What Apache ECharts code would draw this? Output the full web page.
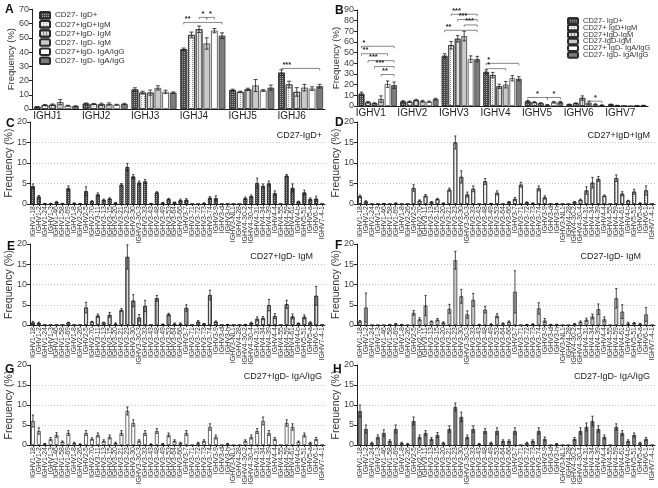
<!DOCTYPE html>
<html><head><meta charset="utf-8">
<script src="https://cdn.jsdelivr.net/npm/echarts@6/dist/echarts.min.js"></script>
<style>html,body{margin:0;padding:0;background:#fff}#c{width:658px;height:488px}</style>
</head><body><div id="c"></div><script>
// ---------------- DATA ----------------
const jCats = ['IGHJ1','IGHJ2','IGHJ3','IGHJ4','IGHJ5','IGHJ6'];
const vFamCats = ['IGHV1','IGHV2','IGHV3','IGHV4','IGHV5','IGHV6','IGHV7'];
const aNames = ['CD27- IgD+','CD27+IgD+IgM','CD27+IgD- IgM','CD27- IgD- IgM','CD27+IgD- IgA/IgG','CD27- IgD- IgA/IgG'];
const bNames = ['CD27- IgD+','CD27+ IgD+IgM','CD27+IgD-IgM','CD27-IgD-IgM','CD27+ IgD- IgA/IgG','CD27- IgD- IgA/IgG '];

// Panel A (IGHJ usage), mean and error per population
const aS1 = [1.5, 3.8, 13.7, 42.0, 13.3, 25.5];  const aS1e = [0.2, 0.4, 1.2, 0.8, 0.6, 2.0];
const aS2 = [2.8, 3.5, 11.5, 52.0, 12.0, 17.2];  const aS2e = [0.4, 0.4, 1.0, 2.0, 0.5, 2.3];
const aS3 = [3.0, 3.3, 11.5, 56.0, 13.8, 12.0];  const aS3e = [0.5, 0.8, 1.8, 2.3, 0.8, 3.0];
const aS4 = [4.8, 3.5, 14.8, 46.0, 16.5, 15.0];  const aS4e = [1.8, 0.8, 1.5, 4.0, 4.2, 2.3];
const aS5 = [2.3, 3.0, 12.0, 55.0, 13.0, 14.3];  const aS5e = [0.3, 0.3, 1.2, 1.5, 0.6, 1.3];
const aS6 = [2.0, 3.5, 11.5, 51.5, 15.0, 16.0];  const aS6e = [0.3, 0.5, 0.5, 2.0, 1.8, 1.3];
// significance brackets: [category, fromSeries, toSeries, yValue, labelMode(0=left,1=center)]
const aBrackets = [[3,0,5,60.8,0],[3,2,3,64.3,1],[3,3,4,64.3,1],[5,0,5,28.5,0]];
const aBracketText = ['**','*','*','***'];

// Panel B (IGHV family usage)
const bS1 = [11.5, 4.2, 47.0, 32.0, 4.3, 1.5, 1.5];  const bS1e = [1.5, 0.8, 2.0, 2.0, 0.8, 0.3, 0.3];
const bS2 = [3.5, 4.0, 57.0, 29.0, 3.5, 2.5, 0.5];   const bS2e = [0.8, 0.6, 3.5, 2.5, 0.5, 0.5, 0.2];
const bS3 = [2.5, 5.5, 63.0, 18.5, 2.5, 7.5, 0.0];   const bS3e = [0.5, 0.8, 3.0, 2.0, 0.6, 2.0, 0.0];
const bS4 = [6.5, 4.5, 65.5, 20.0, 1.0, 3.0, 0.0];   const bS4e = [3.0, 0.8, 4.5, 3.0, 0.3, 1.5, 0.0];
const bS5 = [20.5, 4.0, 44.0, 26.0, 3.5, 1.5, 0.3];  const bS5e = [3.0, 0.6, 3.0, 2.5, 0.8, 0.5, 0.1];
const bS6 = [19.5, 6.5, 44.0, 25.5, 3.5, 0.8, 0.5];  const bS6e = [3.0, 0.8, 2.5, 2.0, 0.8, 0.3, 0.2];
const bBrackets = [[0,0,5,56,0],[0,0,4,49,0],[0,1,5,42.5,0],[0,2,5,37,0],[0,3,5,29.5,0],
  [2,1,5,86,0],[2,2,5,81,0],[2,3,5,76,0],[2,0,5,71,0],
  [3,0,5,40,0],[3,0,3,35,0],
  [4,0,3,8,1],[4,3,5,8,1],[5,3,5,4.5,1]];
const bBracketText = ['*','**','***','***','**','***','***','***','**','*','*','*','*','*'];

// IGHV gene labels for panels C-H
const geneCats = ['IGHV1-18','IGHV1-2','IGHV1-24','IGHV1-3','IGHV1-46','IGHV1-58','IGHV1-69','IGHV1-8',
  'IGHV2-26','IGHV2-5','IGHV2-70','IGHV3-11','IGHV3-13','IGHV3-15','IGHV3-20','IGHV3-21','IGHV3-23',
  'IGHV3-30','IGHV3-30-3','IGHV3-33','IGHV3-43','IGHV3-48','IGHV3-49','IGHV3-53','IGHV3-64','IGHV3-66',
  'IGHV3-7','IGHV3-71','IGHV3-72','IGHV3-73','IGHV3-74','IGHV3-9','IGHV3-d','IGHV3-h','IGHV3-NL1',
  'IGHV4-28','IGHV4-30-2','IGHV4-30-4','IGHV4-31','IGHV4-34','IGHV4-39','IGHV4-4','IGHV4-55','IGHV4-59',
  'IGHV4-61','IGHV4-b','IGHV5-51','IGHV5-a','IGHV6-1','IGHV7-4-1'];
const panelTitles = ['CD27-IgD+','CD27+IgD+IgM','CD27+IgD- IgM','CD27-IgD- IgM','CD27+IgD- IgA/IgG','CD27-IgD- IgA/IgG'];

const cMean = [4.3,1.8,0.1,0.1,0.5,0.1,3.8,0.2,0.1,3.1, 0.7,2.3,1.0,1.3,0.3,4.7,9.0,6.7,5.2,5.5, 0.1,2.8,0.3,1.2,0.4,0.9,1.0,0,0,0.2, 1.5,1.4,0,0,0,0,1.4,1.9,5.1,4.4, 5.0,2.6,0,6.9,3.9,0.6,2.8,1.2,1.3,0];
const cErr  = [0.6,0.3,0.05,0.05,0.15,0.05,0.6,0.1,0.05,1.1, 0.1,0.4,0.2,0.2,0.1,0.3,0.9,0.5,0.4,0.5, 0.05,0.2,0.1,0.2,0.1,0.3,0.3,0,0,0.1, 0.3,0.6,0,0,0,0,0.3,0.3,1.2,0.5, 0.6,0.6,0,0.3,1.0,0.1,0.6,0.3,0.6,0];
const dMean = [1.9,0.6,0,0,0.1,0,0.2,0,0,3.9, 0.8,2.0,0.5,1.2,0.2,3.5,15.0,6.6,2.3,3.7, 0,5.5,0.1,2.7,0,0.5,1.2,4.7,0.4,0.2, 3.8,1.6,0,0.1,0,0,0.5,1.0,3.3,5.2, 6.1,2.0,0,6.3,2.5,0.8,3.0,0.2,3.3,0];
const dErr  = [0.3,0.2,0,0,0.05,0,0.1,0,0,0.8, 0.2,0.3,0.1,0.2,0.1,0.4,1.6,1.5,0.6,0.7, 0,0.7,0.05,0.5,0,0.1,0.4,0.6,0.1,0.1, 0.6,0.4,0,0.05,0,0,0.1,0.2,0.9,1.3, 0.6,0.2,0,0.8,0.5,0.1,0.6,0.1,1.1,0];
const eMean = [0.6,0.5,0,0,0,0,0.6,0,0,4.3, 0.8,2.3,0.6,2.5,0.3,3.7,16.8,6.0,1.8,4.7, 0,6.6,0.2,2.6,0.3,0.3,4.2,0,0.8,0.3, 7.4,0.8,0,0.1,0,0,0.1,0.5,1.5,1.7, 4.9,2.2,0,5.1,2.1,0.4,2.0,0.6,7.2,0];
const eErr  = [0.3,0.2,0,0,0,0,0.1,0,0,1.3, 0.1,0.4,0.1,0.6,0.2,0.4,3.0,1.5,0.8,1.4, 0,0.7,0.05,0.3,0.2,0.2,0.8,0,0.3,0.1, 1.2,0.2,0,0.05,0,0,0.05,0.2,0.5,0.4, 1.4,0.6,0,1.0,0.6,0.1,0.5,0.2,2.3,0];
const fMean = [0.9,4.3,0,0,0,0.1,0.3,0.1,0,3.0, 1.4,4.8,0.9,1.3,0.6,4.0,16.0,7.1,2.6,6.2, 0.1,3.8,0.2,2.3,0.4,0.8,8.2,0,0.1,0.2, 4.1,1.1,0.1,0.1,0,0,0.3,0.8,1.3,2.1, 3.9,1.4,0,6.6,3.3,0.4,0.5,0.3,2.6,0];
const fErr  = [0.2,3.6,0,0,0,0.05,0.1,0.05,0,0.6, 0.4,2.5,0.1,0.3,0.2,1.1,2.2,1.7,0.9,1.6, 0.05,0.8,0.1,0.5,0.1,0.2,5.2,0,0.05,0.1, 1.4,0.5,0.05,0.05,0,0,0.1,0.2,0.4,0.6, 1.3,0.6,0,2.4,1.7,0.3,0.1,0.1,1.7,0];
const gMean = [6.0,3.5,0.3,1.5,2.5,0.8,3.0,0.5,0.2,3.0, 1.5,2.5,1.0,2.0,0.5,3.0,8.5,5.5,1.0,3.0, 0.2,3.5,0.3,2.5,1.0,0.5,3.0,0,0.5,1.0, 4.5,2.0,0,0.3,0,0,1.0,2.0,3.5,6.0, 3.0,1.5,0,5.5,4.5,0.8,2.5,0.5,1.5,0];
const gErr  = [1.5,0.8,0.1,0.4,0.6,0.2,0.6,0.2,0.1,0.6, 0.3,0.5,0.3,0.5,0.2,0.6,1.0,0.8,0.3,0.6, 0.1,0.6,0.1,0.5,0.3,0.2,0.6,0,0.2,0.3, 0.8,0.5,0,0.1,0,0,0.3,0.5,0.6,1.0, 0.6,0.4,0,0.8,0.8,0.2,0.5,0.2,0.4,0];
const hMean = [8.5,4.0,0.5,2.0,3.0,1.0,4.0,0.5,0.3,6.0, 2.0,3.0,1.5,2.5,0.5,4.0,9.5,7.0,2.0,4.0, 0.3,3.5,0.5,3.5,1.0,1.0,3.5,0,0.5,1.0, 3.5,1.5,0,0.3,0,0,1.5,3.5,4.5,6.0, 4.0,2.0,0,4.5,3.0,1.0,2.5,0.5,1.5,0];
const hErr  = [1.5,1.0,0.2,0.5,0.8,0.3,1.0,0.2,0.1,1.0, 0.5,0.6,0.4,0.6,0.2,0.8,1.0,1.2,0.5,0.8, 0.1,0.6,0.2,0.8,0.3,0.3,0.8,0,0.2,0.3, 0.8,0.5,0,0.1,0,0,0.4,0.8,1.0,1.2, 0.8,0.5,0,0.8,0.6,0.3,0.5,0.2,0.4,0];

// ---------------- STYLES ----------------
const FONT = 'Liberation Sans, Arial, sans-serif';
const popStyles = [
  {color:'#4a4a4a', decal:{symbol:'rect', symbolSize:1, color:'rgba(255,255,255,0.5)', dashArrayX:[1,1], dashArrayY:[1,1]}},
  {color:'#f4f4f4', decal:{symbol:'rect', symbolSize:1, color:'#909090', dashArrayX:[1,2], dashArrayY:[1,1]}},
  {color:'#dedede', decal:{symbol:'rect', symbolSize:1, color:'#8c8c8c', dashArrayX:[1,2], dashArrayY:[4,0]}},
  {color:'#c9c9c9'},
  {color:'#ffffff'},
  {color:'#7c7c7c'}
];
const BORDER = '#2b2b2b';

const grids = [
  {left:32, top:9.3, width:293, height:99.7},
  {left:357, top:10, width:291, height:96},
  {left:30, top:122, width:295, height:82},
  {left:357, top:122, width:298, height:82},
  {left:30, top:244, width:295, height:81},
  {left:357, top:244, width:298, height:81},
  {left:30, top:365, width:295, height:80},
  {left:357, top:365, width:298, height:80}
].map(g => Object.assign({containLabel:false, outerBoundsMode:'none'}, g));

const CAT_GAP_AB = 0.08, BAR_GAP_AB = 0.15, CAT_GAP_G = 0.36;

function barOffset(api, s, n, catGap, barGap){
  const band = api.size([1,0])[0];
  const w = band*(1-catGap)/(n+(n-1)*barGap);
  const total = n*w + (n-1)*w*barGap;
  return {off: -total/2 + s*w*(1+barGap) + w/2, w: w};
}
function errRender(s, n, catGap, barGap){
  return function(params, api){
    const cat = api.value(0), m = api.value(1), e = api.value(2);
    if (!(e > 0)) return null;
    const o = barOffset(api, s, n, catGap, barGap);
    const x = api.coord([cat, m])[0] + o.off;
    const yT = api.coord([cat, m+e])[1];
    const yB = api.coord([cat, Math.max(0, m-e)])[1];
    const c = Math.max(2, o.w*0.6);
    const st = {stroke:'#1e1e1e', lineWidth:0.8};
    return {type:'group', children:[
      {type:'line', shape:{x1:x,y1:yT,x2:x,y2:yB}, style:st},
      {type:'line', shape:{x1:x-c/2,y1:yT,x2:x+c/2,y2:yT}, style:st},
      {type:'line', shape:{x1:x-c/2,y1:yB,x2:x+c/2,y2:yB}, style:st}
    ]};
  };
}
function bracketRender(texts, n, catGap, barGap){
  return function(params, api){
    const cat = api.value(0), s1 = api.value(1), s2 = api.value(2), yv = api.value(3), mode = api.value(4);
    const p = api.coord([cat, yv]);
    const x1 = p[0] + barOffset(api, s1, n, catGap, barGap).off;
    const x2 = p[0] + barOffset(api, s2, n, catGap, barGap).off;
    const y = p[1];
    const st = {stroke:'#555', lineWidth:0.7};
    const tx = mode === 1 ? (x1+x2)/2 : x1 + 1;
    return {type:'group', children:[
      {type:'line', shape:{x1:x1,y1:y,x2:x2,y2:y}, style:st},
      {type:'line', shape:{x1:x1,y1:y,x2:x1,y2:y+2}, style:st},
      {type:'line', shape:{x1:x2,y1:y,x2:x2,y2:y+2}, style:st},
      {type:'text', style:{text:texts[params.dataIndex], x:tx, y:y+0.5, align: mode===1?'center':'left', verticalAlign:'bottom', fontSize:7.5, fontWeight:'bold', fill:'#222', fontFamily:FONT}}
    ]};
  };
}

// ---------------- AXES ----------------
const xAxes = [], yAxes = [], series = [];
function yAx(gi, max, interval, nameGap, fs, split){
  return {type:'value', gridIndex:gi, min:0, max:max, interval:interval,
    axisLine:{show:true, lineStyle:{color:'#222', width:1}},
    axisTick:{show:true, length:3, lineStyle:{color:'#222'}},
    axisLabel:{fontSize:9, color:'#444', margin:3, fontFamily:FONT},
    splitLine: split ? {show:true, showMinLine:false, showMaxLine:false, lineStyle:{type:[1,2], color:'#b5b5b5', width:0.8}} : {show:false},
    name:'Frequency (%)', nameLocation:'middle', nameGap:nameGap, nameMoveOverlap:false,
    nameTextStyle:{fontSize:fs, color:'#333', fontFamily:FONT}};
}
xAxes.push({type:'category', gridIndex:0, data:jCats, axisLine:{lineStyle:{color:'#222'}}, axisTick:{show:false},
  axisLabel:{fontSize:10, color:'#222', margin:2, padding:[0,18,0,0], fontFamily:FONT}});
yAxes.push(yAx(0, 70, 10, 16, 9.5, false));
xAxes.push({type:'category', gridIndex:1, data:vFamCats, axisLine:{lineStyle:{color:'#222'}}, axisTick:{show:false},
  axisLabel:{fontSize:10, color:'#222', margin:2, padding:[0,14,0,0], fontFamily:FONT}});
yAxes.push(yAx(1, 90, 10, 16, 9.5, false));
for (let g = 2; g < 8; g++){
  xAxes.push({type:'category', gridIndex:g, data:geneCats,
    axisLine:{lineStyle:{color:'#222'}},
    axisTick:{show:true, alignWithLabel:true, length:2, lineStyle:{color:'#222'}},
    axisLabel:{rotate:90, interval:0, fontSize:7, margin:2, color:'#333', hideOverlap:false, fontFamily:FONT}});
  yAxes.push(yAx(g, 20, 5, 15, 10.5, true));
}

// ---------------- SERIES ----------------
const aMeans = [aS1,aS2,aS3,aS4,aS5,aS6], aErrs = [aS1e,aS2e,aS3e,aS4e,aS5e,aS6e];
const bMeans = [bS1,bS2,bS3,bS4,bS5,bS6], bErrs = [bS1e,bS2e,bS3e,bS4e,bS5e,bS6e];
function groupPanel(gi, names, means, errs){
  means.forEach((m, s) => {
    series.push({type:'bar', name:names[s], xAxisIndex:gi, yAxisIndex:gi, data:m,
      barCategoryGap:(CAT_GAP_AB*100)+'%', barGap:(BAR_GAP_AB*100)+'%',
      itemStyle:Object.assign({borderColor:BORDER, borderWidth:0.7}, popStyles[s]),
      emphasis:{disabled:true}, animation:false, z:2});
  });
  means.forEach((m, s) => {
    series.push({type:'custom', xAxisIndex:gi, yAxisIndex:gi, animation:false, z:3,
      renderItem:errRender(s, means.length, CAT_GAP_AB, BAR_GAP_AB),
      data:m.map((v,i)=>[i, v, errs[s][i]])});
  });
}
groupPanel(0, aNames, aMeans, aErrs);
groupPanel(1, bNames, bMeans, bErrs);
series.push({type:'custom', xAxisIndex:0, yAxisIndex:0, animation:false, z:4,
  renderItem:bracketRender(aBracketText, 6, CAT_GAP_AB, BAR_GAP_AB), data:aBrackets});
series.push({type:'custom', xAxisIndex:1, yAxisIndex:1, animation:false, z:4,
  renderItem:bracketRender(bBracketText, 6, CAT_GAP_AB, BAR_GAP_AB), data:bBrackets});

const geneMeans = [cMean,dMean,eMean,fMean,gMean,hMean], geneErrs = [cErr,dErr,eErr,fErr,gErr,hErr];
geneMeans.forEach((m, k) => {
  const gi = k+2;
  series.push({type:'bar', name:panelTitles[k]+' ', xAxisIndex:gi, yAxisIndex:gi, data:m,
    barCategoryGap:(CAT_GAP_G*100)+'%',
    itemStyle:Object.assign({borderColor:BORDER, borderWidth:0.7}, popStyles[k]),
    emphasis:{disabled:true}, animation:false});
  series.push({type:'custom', xAxisIndex:gi, yAxisIndex:gi, animation:false, z:3,
    renderItem:errRender(0, 1, CAT_GAP_G, 0), data:m.map((v,i)=>[i, v, geneErrs[k][i]])});
});

// ---------------- TITLES ----------------
const letterPos = [[5,4],[335,5],[6,118],[335,117],[7,241],[335,240],[5,364],[333,364]];
const letters = ['A','B','C','D','E','F','G','H'];
const titles = letters.map((t,i)=>({text:t, left:letterPos[i][0], top:letterPos[i][1], padding:0,
  textStyle:{fontSize:12, fontWeight:'bold', color:'#111', fontFamily:FONT}}));
const subPos = [[336,131],[8,131],[345,252],[17,252],[336,372],[8,372]];
panelTitles.forEach((t,i)=>titles.push({text:t, right:subPos[i][0], top:subPos[i][1], padding:0,
  textStyle:{fontSize:9, fontWeight:'normal', color:'#222', fontFamily:FONT}}));

const option = {
  backgroundColor:'#fff',
  animation:false,
  textStyle:{fontFamily:FONT},
  title:titles,
  grid:grids,
  xAxis:xAxes, yAxis:yAxes,
  legend:[
    {orient:'vertical', left:39, top:11, padding:0, itemWidth:10, itemHeight:6.5, itemGap:0.6, selectedMode:false,
     data:aNames, textStyle:{fontSize:8, color:'#333', fontFamily:FONT}},
    {orient:'vertical', left:567, top:17, padding:0, itemWidth:10, itemHeight:5.5, itemGap:-1.2, selectedMode:false,
     data:bNames, textStyle:{fontSize:7.5, color:'#333', fontFamily:FONT}}
  ],
  series:series
};
const chart = echarts.init(document.getElementById('c'), null, {renderer:'canvas', width:658, height:488});
chart.setOption(option);
</script></body></html>
